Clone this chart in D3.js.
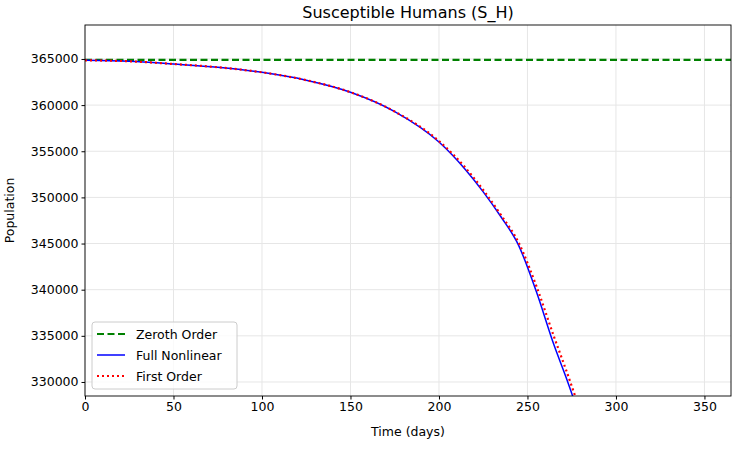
<!DOCTYPE html><html><head><meta charset="utf-8"><script src="https://cdn.jsdelivr.net/npm/d3@7"></script>
<style>body{margin:0;background:#fff}text{font-family:"DejaVu Sans",sans-serif}</style></head><body><svg id="c" width="735" height="449"></svg>
<script>
const title="Susceptible Humans (S_H)";
const days=[0,25,50,75,100,125,150,175,200,215,225,235,245,255,265,272,276,280];
const full=[364850,364750,364450,364100,363550,362700,361400,359300,356000,353000,350600,347900,344800,339800,334000,330400,328200,325800];
const first=[364850,364750,364450,364100,363550,362700,361400,359300,356100,353200,350800,348100,345100,340400,334900,331200,329000,326700];
const zeroValue=364900;
const xTicks=[0,50,100,150,200,250,300,350];
const yTicks=[330000,335000,340000,345000,350000,355000,360000,365000];
const svg=d3.select("#c");
const L=85,R=731,T=25,B=396;
const x=d3.scaleLinear().domain([0,365]).range([L,R]);
const y=d3.scaleLinear().domain([328480,368680]).range([B,T]);
svg.append("g").selectAll("line").data(xTicks).join("line").attr("x1",d=>x(d)).attr("x2",d=>x(d)).attr("y1",T).attr("y2",B).attr("stroke","#e6e6e6");
svg.append("g").selectAll("line").data(yTicks).join("line").attr("y1",d=>y(d)).attr("y2",d=>y(d)).attr("x1",L).attr("x2",R).attr("stroke","#e6e6e6");
svg.append("defs").append("clipPath").attr("id","cp").append("rect").attr("x",L).attr("y",T).attr("width",R-L).attr("height",B-T);
const g=svg.append("g").attr("clip-path","url(#cp)");
const ln=arr=>d3.line().x((d,i)=>x(days[i])).y(d=>y(d)).curve(d3.curveMonotoneX)(arr);
g.append("path").attr("d",d3.line().x(d=>x(d)).y(y(zeroValue))([0,365])).attr("stroke","green").attr("stroke-width",2.2).attr("stroke-dasharray","7,3.5").attr("fill","none");
g.append("path").attr("d",ln(full)).attr("stroke","blue").attr("stroke-width",1.5).attr("fill","none");
g.append("path").attr("d",ln(first)).attr("stroke","red").attr("stroke-width",2.2).attr("stroke-dasharray","2,3").attr("fill","none");
const xa=svg.append("g").attr("transform",`translate(0,${B})`).call(d3.axisBottom(x).tickValues(xTicks).tickSize(3.5).tickSizeOuter(0));
const ya=svg.append("g").attr("transform",`translate(${L},0)`).call(d3.axisLeft(y).tickValues(yTicks).tickFormat(d3.format("d")).tickSize(3.5).tickSizeOuter(0));
[xa,ya].forEach(a=>{a.selectAll("text").attr("font-size",12.5).attr("font-family","DejaVu Sans").attr("fill","#000");a.select(".domain").remove();});
svg.append("rect").attr("x",L).attr("y",T).attr("width",R-L).attr("height",B-T).attr("fill","none").attr("stroke","#000").attr("stroke-width",0.9);
svg.append("text").attr("x",(L+R)/2).attr("y",18).attr("text-anchor","middle").attr("font-size",16).text(title);
svg.append("text").attr("x",(L+R)/2).attr("y",436).attr("text-anchor","middle").attr("font-size",12.5).text("Time (days)");
svg.append("text").attr("transform",`translate(14,${(T+B)/2}) rotate(-90)`).attr("text-anchor","middle").attr("font-size",12.5).text("Population");
const lg=svg.append("g").attr("transform","translate(92,322)");
lg.append("rect").attr("width",145).attr("height",67).attr("rx",3).attr("fill","#fff").attr("fill-opacity",0.8).attr("stroke","#ccc");
const items=[["Zeroth Order","green","7,3.5",2.2],["Full Nonlinear","blue",null,1.5],["First Order","red","2,3",2.2]];
items.forEach((it,i)=>{const yy=12+i*21;
lg.append("line").attr("x1",5).attr("x2",33).attr("y1",yy).attr("y2",yy).attr("stroke",it[1]).attr("stroke-width",it[3]).attr("stroke-dasharray",it[2]);
lg.append("text").attr("x",44).attr("y",yy+4.5).attr("font-size",12.5).text(it[0]);});
</script></body></html>
